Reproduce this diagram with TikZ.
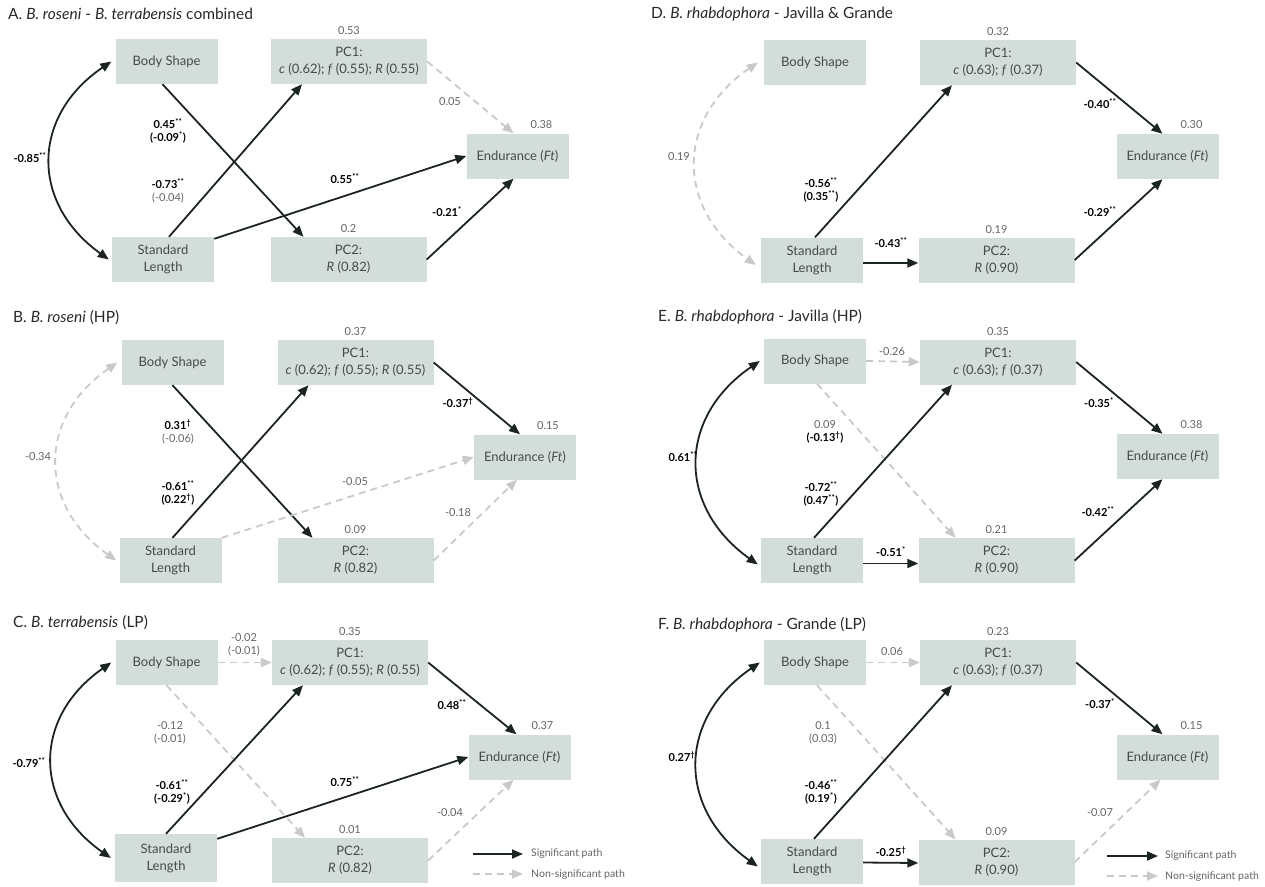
\documentclass[tikz,border=0pt]{standalone}
\usepackage{fontspec}
\setmainfont{Lato}
\usetikzlibrary{arrows.meta}
\definecolor{boxfill}{RGB}{211,221,218}
\definecolor{boxtext}{RGB}{70,74,72}
\definecolor{sigcol}{RGB}{28,36,34}
\definecolor{nscol}{RGB}{200,202,201}
\definecolor{labgray}{RGB}{100,100,100}
\definecolor{titlecol}{RGB}{40,40,40}
\newcommand\pstar[1]{\textsuperscript{#1}}
\newcommand\gtext[1]{{\mdseries\color{labgray}#1}}
\begin{document}
\begin{tikzpicture}[x=1pt,y=-1pt,>={Triangle[length=11pt,width=9pt]},
  box/.style={fill=boxfill,text=boxtext,font=\fontsize{13}{17}\selectfont,align=center,inner sep=0pt,minimum height=45pt},
  small/.style={minimum width=102pt},
  wide/.style={minimum width=156pt},
  title/.style={font=\fontsize{15.5}{18}\selectfont,text=titlecol,anchor=west,inner sep=0pt},
  lab/.style={font=\fontsize{11}{13}\selectfont\bfseries,text=black,align=center,inner sep=1pt},
  glab/.style={font=\fontsize{11}{13}\selectfont,text=labgray,align=center,inner sep=1pt},
  leg/.style={font=\fontsize{10.5}{12}\selectfont,text=labgray,anchor=west,inner sep=0pt},
  sig/.style={draw=sigcol,line width=1.8pt,->},
  nsig/.style={draw=nscol,line width=1.8pt,dash pattern=on 7pt off 5pt,->},
  corr/.style={bend right=55,looseness=1.25}]
\useasboundingbox (0,0) rectangle (1265,886);

% A
\node[title] (aT) at (8,14) {A. \textit{B. roseni} - \textit{B. terrabensis} combined};
\node[box,small] (aBS) at (166.5,61.5) {Body Shape};
\node[box,wide] (aPC1) at (349,61.5) {PC1:\\\textit{c} (0.62); \textit{f} (0.55); \textit{R} (0.55)};
\node[box,small] (aEN) at (517.5,156) {Endurance (\textit{Ft})};
\node[box,small] (aSL) at (163,259.5) {Standard\\Length};
\node[box,wide] (aPC2) at (348.5,259.5) {PC2:\\\textit{R} (0.82)};
\draw[sig,<->] ([xshift=-4pt]aBS.west) to[corr] ([xshift=-3pt]aSL.west);
\draw[sig] ([xshift=-4pt]aBS.south) -- ([xshift=-45pt]aPC2.north);
\draw[sig] ([xshift=6pt]aSL.north) -- ([xshift=-47pt]aPC1.south);
\draw[sig] ([yshift=-2pt]aSL.north east) -- (aEN.west);
\draw[nsig] (aPC1.east) -- ([xshift=-4pt]aEN.north);
\draw[sig] (aPC2.east) -- ([xshift=-4pt]aEN.south);
\node[lab] (aL1) at (30,158) {-0.85\pstar{**}};
\node[lab] (aL2) at (168,131) {0.45\pstar{**}\\(-0.09\pstar{*})};
\node[lab] (aL3) at (168,191) {-0.73\pstar{**}\\\gtext{(-0.04)}};
\node[lab] (aL4) at (345,179) {0.55\pstar{**}};
\node[glab] (aL5) at (450,102) {0.05};
\node[lab] (aL6) at (447,212) {-0.21\pstar{*}};
\node[glab] (aR1) at ([yshift=8pt]aPC1.north) {0.53};
\node[glab] (aR2) at ([xshift=24pt,yshift=9pt]aEN.north) {0.38};
\node[glab] (aR3) at ([yshift=8pt]aPC2.north) {0.2};

% B
\node[title] (bT) at (13,318) {B. \textit{B. roseni} (HP)};
\node[box,small] (bBS) at (172.5,362.5) {Body Shape};
\node[box,wide] (bPC1) at (355.5,362.5) {PC1:\\\textit{c} (0.62); \textit{f} (0.55); \textit{R} (0.55)};
\node[box,small] (bEN) at (525,457) {Endurance (\textit{Ft})};
\node[box,small] (bSL) at (170.5,560.5) {Standard\\Length};
\node[box,wide] (bPC2) at (355.5,560.5) {PC2:\\\textit{R} (0.82)};
\draw[nsig,<->] ([xshift=-4pt]bBS.west) to[corr] ([xshift=-3pt]bSL.west);
\draw[sig] (bBS.south) -- ([xshift=-43pt]bPC2.north);
\draw[sig] ([xshift=2pt]bSL.north) -- ([xshift=-47pt]bPC1.south);
\draw[nsig] (bSL.north east) -- (bEN.west);
\draw[sig] (bPC1.east) -- ([xshift=-5pt]bEN.north);
\draw[nsig] (bPC2.east) -- ([xshift=-8pt]bEN.south);
\node[glab] (bL1) at (38,457) {-0.34};
\node[lab] (bL2) at (178,432) {0.31\pstar{\textdagger}\\\gtext{(-0.06)}};
\node[lab] (bL3) at (178,493) {-0.61\pstar{**}\\(0.22\pstar{\textdagger})};
\node[glab] (bL4) at (355,482) {-0.05};
\node[lab] (bL5) at (458,403) {-0.37\pstar{\textdagger}};
\node[glab] (bL6) at (458,513) {-0.18};
\node[glab] (bR1) at ([yshift=8pt]bPC1.north) {0.37};
\node[glab] (bR2) at ([xshift=23pt,yshift=9pt]bEN.north) {0.15};
\node[glab] (bR3) at ([yshift=8pt]bPC2.north) {0.09};

% C
\node[title] (cT) at (13,623) {C. \textit{B. terrabensis} (LP)};
\node[box,small] (cBS) at (166.5,662.5) {Body Shape};
\node[box,wide] (cPC1) at (350,662.5) {PC1:\\\textit{c} (0.62); \textit{f} (0.55); \textit{R} (0.55)};
\node[box,small] (cEN) at (519.5,757) {Endurance (\textit{Ft})};
\node[box,small,minimum height=48pt] (cSL) at (166,858) {Standard\\Length};
\node[box,wide] (cPC2) at (350,860.5) {PC2:\\\textit{R} (0.82)};
\draw[sig,<->] ([xshift=-4pt]cBS.west) to[corr] ([xshift=-4pt]cSL.west);
\draw[nsig] (cBS.east) -- (cPC1.west);
\draw[nsig] (cBS.south) -- ([xshift=-45pt]cPC2.north);
\draw[sig] (cSL.north) -- ([xshift=-47pt]cPC1.south);
\draw[sig] ([yshift=-5pt]cSL.north east) -- (cEN.west);
\draw[sig] (cPC1.east) -- ([xshift=-3pt]cEN.north);
\draw[nsig] (cPC2.east) -- ([xshift=-6pt]cEN.south);
\node[lab] (cL1) at (29,763) {-0.79\pstar{**}};
\node[glab] (cL2) at (244,645) {-0.02\\(-0.01)};
\node[glab] (cL3) at (170,733) {-0.12\\(-0.01)};
\node[lab] (cL4) at (172,792) {-0.61\pstar{**}\\(-0.29\pstar{*})};
\node[lab] (cL5) at (345,782) {0.75\pstar{**}};
\node[lab] (cL6) at (452,705) {0.48\pstar{**}};
\node[glab] (cL7) at (450,813) {-0.04};
\node[glab] (cR1) at ([yshift=8pt]cPC1.north) {0.35};
\node[glab] (cR2) at ([xshift=23pt,yshift=9pt]cEN.north) {0.37};
\node[glab] (cR3) at ([yshift=8pt]cPC2.north) {0.01};
\coordinate (cLa) at (473,854);
\coordinate (cLb) at (473,874);
\node[leg] (cSig) at (531,854) {Significant path};
\node[leg] (cNs) at (531,875) {Non-significant path};
\draw[sig] (cLa) -- ([xshift=-8pt]cSig.west);
\draw[nsig] (cLb) -- ([xshift=-8pt,yshift=1pt]cNs.west);

% D
\node[title] (dT) at (651,14) {D. \textit{B. rhabdophora} - Javilla \& Grande};
\node[box,small] (dBS) at (815,62.5) {Body Shape};
\node[box,wide] (dPC1) at (998,62.5) {PC1:\\\textit{c} (0.63); \textit{f} (0.37)};
\node[box,small] (dEN) at (1167.5,156.5) {Endurance (\textit{Ft})};
\node[box,small] (dSL) at (812,260) {Standard\\Length};
\node[box,wide] (dPC2) at (996.5,260) {PC2:\\\textit{R} (0.90)};
\draw[nsig,<->] ([xshift=-6pt]dBS.west) to[corr] ([xshift=-5pt,yshift=-5pt]dSL.west);
\draw[sig] ([xshift=3pt]dSL.north) -- ([xshift=-46pt]dPC1.south);
\draw[sig] ([yshift=-3pt]dSL.east) -- ([yshift=-3pt]dPC2.west);
\draw[sig] (dPC1.east) -- ([xshift=-5pt]dEN.north);
\draw[sig] (dPC2.east) -- ([xshift=-5pt]dEN.south);
\node[glab] (dL1) at (679,157) {0.19};
\node[lab] (dL2) at (821,190) {-0.56\pstar{**}\\(0.35\pstar{**})};
\node[lab] (dL3) at (891,243) {-0.43\pstar{**}};
\node[lab] (dL4) at (1100,104) {-0.40\pstar{**}};
\node[lab] (dL5) at (1100,212) {-0.29\pstar{**}};
\node[glab] (dR1) at ([yshift=8pt]dPC1.north) {0.32};
\node[glab] (dR2) at ([xshift=24pt,yshift=9pt]dEN.north) {0.30};
\node[glab] (dR3) at ([yshift=8pt]dPC2.north) {0.19};

% E
\node[title] (eT) at (658,317) {E. \textit{B. rhabdophora} - Javilla (HP)};
\node[box,small] (eBS) at (815,361) {Body Shape};
\node[box,wide] (ePC1) at (998,362) {PC1:\\\textit{c} (0.63); \textit{f} (0.37)};
\node[box,small] (eEN) at (1167.5,456.5) {Endurance (\textit{Ft})};
\node[box,small] (eSL) at (812,560.5) {Standard\\Length};
\node[box,wide] (ePC2) at (996.5,560.5) {PC2:\\\textit{R} (0.90)};
\draw[sig,<->] ([xshift=-4pt]eBS.west) to[corr] ([xshift=-3pt,yshift=-4pt]eSL.west);
\draw[nsig] (eBS.east) -- (ePC1.west);
\draw[nsig] ([xshift=2pt]eBS.south) -- ([xshift=-41pt]ePC2.north);
\draw[sig] ([xshift=2pt]eSL.north) -- ([xshift=-46pt]ePC1.south);
\draw[sig] ([yshift=-3pt]eSL.east) -- ([yshift=-3pt]ePC2.west);
\draw[sig] (ePC1.east) -- ([xshift=-5pt]eEN.north);
\draw[sig] (ePC2.east) -- ([xshift=-5pt]eEN.south);
\node[lab] (eL1) at (683,457) {0.61\pstar{**}};
\node[glab] (eL2) at (892,352) {-0.26};
\node[glab] (eL3) at (825,432) {0.09\\{\bfseries\color{black}(-0.13\pstar{\textdagger})}};
\node[lab] (eL4) at (821,494) {-0.72\pstar{**}\\(0.47\pstar{**})};
\node[lab] (eL5) at (891,552) {-0.51\pstar{*}};
\node[lab] (eL6) at (1099,403) {-0.35\pstar{*}};
\node[lab] (eL7) at (1098,512) {-0.42\pstar{**}};
\node[glab] (eR1) at ([yshift=8pt]ePC1.north) {0.35};
\node[glab] (eR2) at ([xshift=24pt,yshift=9pt]eEN.north) {0.38};
\node[glab] (eR3) at ([yshift=8pt]ePC2.north) {0.21};

% F
\node[title] (fT) at (658,625) {F. \textit{B. rhabdophora} - Grande (LP)};
\node[box,small] (fBS) at (815,662.5) {Body Shape};
\node[box,wide] (fPC1) at (998,662.5) {PC1:\\\textit{c} (0.63); \textit{f} (0.37)};
\node[box,small] (fEN) at (1167.5,757) {Endurance (\textit{Ft})};
\node[box,small] (fSL) at (812,861.5) {Standard\\Length};
\node[box,wide] (fPC2) at (996.5,862) {PC2:\\\textit{R} (0.90)};
\draw[sig,<->] ([xshift=-4pt]fBS.west) to[corr] ([xshift=-3pt,yshift=-5pt]fSL.west);
\draw[nsig] (fBS.east) -- (fPC1.west);
\draw[nsig] ([xshift=2pt]fBS.south) -- ([xshift=-41pt]fPC2.north);
\draw[sig] ([xshift=2pt]fSL.north) -- ([xshift=-46pt]fPC1.south);
\draw[sig] ([yshift=-1pt]fSL.east) -- ([yshift=-1pt]fPC2.west);
\draw[sig] (fPC1.east) -- ([xshift=-5pt]fEN.north);
\draw[nsig] (fPC2.east) -- ([xshift=-7pt]fEN.south);
\node[lab] (fL1) at (682,757) {0.27\pstar{\textdagger}};
\node[glab] (fL2) at (892,652) {0.06};
\node[glab] (fL3) at (823,733) {0.1\\(0.03)};
\node[lab] (fL4) at (821,792) {-0.46\pstar{**}\\(0.19\pstar{*})};
\node[lab] (fL5) at (891,852) {-0.25\pstar{\textdagger}};
\node[lab] (fL6) at (1100,704) {-0.37\pstar{*}};
\node[glab] (fL7) at (1100,813) {-0.07};
\node[glab] (fR1) at ([yshift=8pt]fPC1.north) {0.23};
\node[glab] (fR2) at ([xshift=24pt,yshift=9pt]fEN.north) {0.15};
\node[glab] (fR3) at ([yshift=8pt]fPC2.north) {0.09};
\coordinate (fLa) at (1107,856);
\coordinate (fLb) at (1107,876);
\node[leg] (fSig) at (1165,856) {Significant path};
\node[leg] (fNs) at (1165,877) {Non-significant path};
\draw[sig] (fLa) -- ([xshift=-7pt]fSig.west);
\draw[nsig] (fLb) -- ([xshift=-7pt,yshift=1pt]fNs.west);
\end{tikzpicture}
\end{document}
